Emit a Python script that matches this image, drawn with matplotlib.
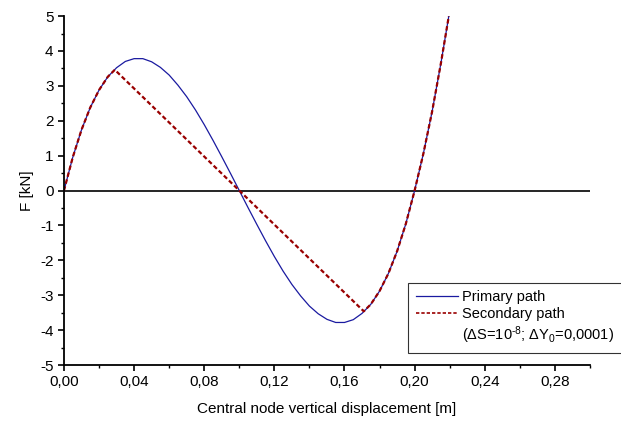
import numpy as np
from matplotlib import pyplot as plt
from matplotlib.lines import Line2D
from matplotlib.ticker import MultipleLocator, FuncFormatter

plt.rcParams['font.family'] = ['Liberation Sans', 'DejaVu Sans']
plt.rcParams['mathtext.fontset'] = 'custom'
plt.rcParams['mathtext.rm'] = 'Liberation Sans'
plt.rcParams['mathtext.it'] = 'Liberation Sans:italic'
plt.rcParams['axes.unicode_minus'] = False

# primary path
x_prim = [0.000, 0.005, 0.010, 0.015, 0.020, 0.025, 0.030, 0.035, 0.040, 0.045,
          0.050, 0.055, 0.060, 0.065, 0.070, 0.075, 0.080, 0.085, 0.090, 0.095,
          0.100, 0.105, 0.110, 0.115, 0.120, 0.125, 0.130, 0.135, 0.140, 0.145,
          0.150, 0.155, 0.160, 0.165, 0.170, 0.175, 0.180, 0.185, 0.190, 0.195,
          0.200, 0.205, 0.210, 0.215, 0.2195]
f_prim = [0.00, 0.95, 1.74, 2.38, 2.88, 3.26, 3.52, 3.70, 3.78, 3.78,
          3.69, 3.53, 3.31, 3.02, 2.69, 2.31, 1.89, 1.44, 0.97, 0.49,
          0.00, -0.49, -0.97, -1.44, -1.89, -2.31, -2.69, -3.02, -3.31, -3.53,
          -3.69, -3.78, -3.78, -3.70, -3.52, -3.26, -2.88, -2.38, -1.74, -0.95,
          0.00, 1.06, 2.27, 3.65, 5.00]

# secondary path (snap-through jump between the two kinks)
x_sec = [0.000, 0.005, 0.010, 0.015, 0.020, 0.025, 0.029,
         0.171, 0.175, 0.180, 0.185, 0.190, 0.195, 0.200, 0.205, 0.210, 0.215, 0.2195]
f_sec = [0.00, 0.95, 1.74, 2.38, 2.88, 3.26, 3.46,
         -3.46, -3.26, -2.88, -2.38, -1.74, -0.95, 0.00, 1.06, 2.27, 3.65, 5.00]

fig = plt.figure(figsize=(6.21, 4.23), dpi=100)
ax = fig.add_subplot(1, 1, 1)
fig.subplots_adjust(left=0.103, right=0.950, top=0.962, bottom=0.137)

ax.plot([0, 0.30], [0, 0], color='black', lw=1.2)
ax.plot(x_prim, f_prim, color='#1a1aa0', lw=0.9)
ax.plot(x_sec, f_sec, color='#990000', lw=1.6, linestyle=(0, (2, 1.2)))

ax.set_xlim(0, 0.30)
ax.set_ylim(-5, 5)
ax.xaxis.set_major_locator(MultipleLocator(0.04))
ax.xaxis.set_minor_locator(MultipleLocator(0.02))
ax.yaxis.set_major_locator(MultipleLocator(1))
ax.yaxis.set_minor_locator(MultipleLocator(0.5))
ax.xaxis.set_major_formatter(FuncFormatter(lambda v, p: f'{v:.2f}'.replace('.', ',')))
ax.yaxis.set_major_formatter(FuncFormatter(lambda v, p: f'{v:.0f}'))

for s in ['top', 'right']:
    ax.spines[s].set_visible(False)
for s in ['left', 'bottom']:
    ax.spines[s].set_linewidth(1.3)
ax.tick_params(which='major', direction='out', length=4, width=1.2, labelsize=11)
ax.tick_params(which='minor', direction='out', length=2.5, width=1.0)

ax.set_xlabel('Central node vertical displacement [m]', fontsize=11, labelpad=9)
ax.set_ylabel('F [kN]', fontsize=11, labelpad=4)

handles = [Line2D([], [], color='#1a1aa0', lw=0.9),
           Line2D([], [], color='#990000', lw=1.2, linestyle=(0, (2, 1.2))),
           Line2D([], [], linestyle='none')]
labels = ['Primary path', 'Secondary path', r'(ΔS=10$^{\text{-}8}$; ΔY$_0$=0,0001)']
leg = ax.legend(handles, labels, loc='lower left', bbox_to_anchor=(0.655, 0.035),
                fontsize=10.5, frameon=True, fancybox=False, edgecolor='black',
                handlelength=2.9, handletextpad=0.3, labelspacing=0.2,
                borderpad=0.5, borderaxespad=0)
leg.get_frame().set_linewidth(0.8)
leg.set_clip_on(False)

plt.savefig('out.png', dpi=100)
